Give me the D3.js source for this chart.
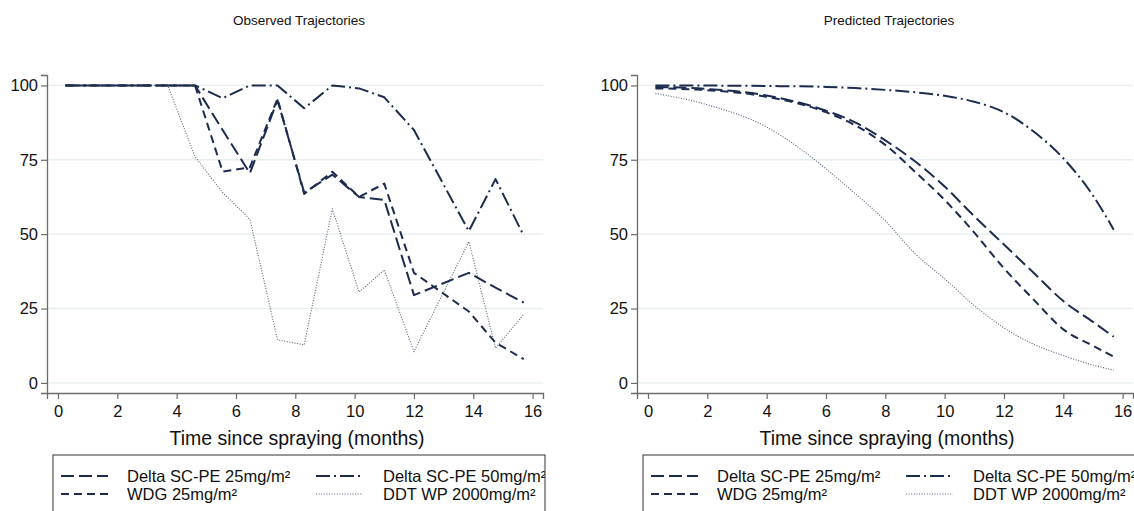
<!DOCTYPE html>
<html>
<head>
<meta charset="utf-8">
<script src="https://cdn.jsdelivr.net/npm/d3@7"></script>
<style>
  html, body { margin: 0; padding: 0; background: #fff; }
  svg { display: block; font-family: "Liberation Sans", Arial, sans-serif; }
</style>
</head>
<body>
<div id="chart"></div>
<script>
// observed survival (%) at each visit
const obsTimes = [0.25, 3.7, 4.62, 5.55, 6.47, 7.4, 8.3, 9.25, 10.15, 11.0, 12.0, 13.85, 14.75, 15.7];
const obsDelta25 = [100, 100, 100, 85, 70.5, 95, 64, 70, 62.5, 61.5, 29.5, 37, 32, 27];
const obsWdg25 = [100, 100, 100, 71, 72.5, 95.5, 63.5, 71, 62.5, 67, 37, 24, 13.5, 8];
const obsDelta50 = [100, 100, 100, 95.7, 100, 100, 92.3, 100, 99, 96, 85, 51, 68.5, 49.5];
const obsDdt = [100, 100, 76, 64, 55, 14.5, 12.8, 58.5, 30.5, 38, 10.5, 47.5, 11.7, 23];

// predicted trajectories
const predTimes = [0.25, 2, 4, 6, 7, 8, 9, 10, 11, 12, 13, 14, 15, 15.7];
const predDelta25 = [99.5, 98.8, 96.6, 91.5, 87.5, 81.5, 74.5, 66, 56, 46.5, 37, 27.5, 20.5, 15.5];
const predWdg25 = [99, 98.4, 96.2, 91, 86.5, 80, 71, 61.5, 50.5, 38.5, 28, 18, 12.5, 8.8];
const predDelta50 = [100, 99.95, 99.8, 99.5, 99.1, 98.5, 97.7, 96.5, 94.5, 91, 84.5, 75.5, 63, 51.5];
const predDdt = [97.3, 93.5, 86, 72, 63.5, 54.5, 43.5, 35, 26, 18.5, 13, 9.2, 6, 4.3];

const seriesNames = ['Delta SC-PE 25mg/m²', 'WDG 25mg/m²', 'Delta SC-PE 50mg/m²', 'DDT WP 2000mg/m²'];
const panelTitles = ['Observed Trajectories', 'Predicted Trajectories'];
const xTicks = [0, 2, 4, 6, 8, 10, 12, 14, 16];
const yTicks = [0, 25, 50, 75, 100];
const xTitle = 'Time since spraying (months)';

const navy = '#1c2b4e';
const styles = [
  { dash: '13,5', width: 2, opacity: 1 },
  { dash: '8,5', width: 2, opacity: 1 },
  { dash: '14,4,2,4', width: 2, opacity: 1 },
  { dash: '1,1.6', width: 1.1, opacity: 0.75 },
];

const W = 1134, H = 511;
const svg = d3.select('#chart').append('svg').attr('width', W).attr('height', H);
svg.append('rect').attr('width', W).attr('height', H).attr('fill', '#fff');

function drawPanel(offset, title, times, series, clipId) {
  const left = 47 + offset, right = 543 + offset, top = 75, bottom = 393;
  const x = d3.scaleLinear().domain([-0.37, 16.35]).range([left, right]);
  const y = d3.scaleLinear().domain([-3.4, 103.5]).range([bottom, top]);
  const g = svg.append('g');

  // title
  g.append('text')
    .attr('x', (left + right) / 2 + 4)
    .attr('y', 25)
    .attr('text-anchor', 'middle')
    .attr('font-size', 13.5)
    .attr('fill', '#111')
    .text(title);

  // grid
  g.selectAll('.grid')
    .data(yTicks)
    .enter()
    .append('line')
    .attr('x1', left)
    .attr('x2', right)
    .attr('y1', (d) => y(d))
    .attr('y2', (d) => y(d))
    .attr('stroke', '#e6eef0')
    .attr('stroke-width', 1.4);

  // axes
  const yAxis = g.append('g')
    .attr('transform', 'translate(' + left + ',0)')
    .call(d3.axisLeft(y).tickValues(yTicks).tickSize(6).tickPadding(3));
  const xAxis = g.append('g')
    .attr('transform', 'translate(0,' + bottom + ')')
    .call(d3.axisBottom(x).tickValues(xTicks).tickSize(6).tickPadding(6));
  [xAxis, yAxis].forEach((a) => {
    a.select('.domain').attr('stroke', '#6b6b6b').attr('stroke-width', 1.3);
    a.selectAll('.tick line').attr('stroke', '#6b6b6b').attr('stroke-width', 1.2);
    a.selectAll('.tick text')
      .attr('font-size', 16.5)
      .attr('fill', '#111')
      .style('font-family', '"Liberation Sans", Arial, sans-serif');
  });

  g.append('text')
    .attr('x', (left + right) / 2 + 2)
    .attr('y', 445)
    .attr('text-anchor', 'middle')
    .attr('font-size', 19.5)
    .attr('fill', '#111')
    .text(xTitle);

  // lines
  const line = d3.line()
    .x((d) => x(d[0]))
    .y((d) => y(d[1]));
  if (offset > 0) line.curve(d3.curveMonotoneX);

  series.forEach((vals, i) => {
    g.append('path')
      .datum(times.map((t, k) => [t, vals[k]]))
      .attr('fill', 'none')
      .attr('stroke', navy)
      .attr('stroke-width', styles[i].width)
      .attr('stroke-opacity', styles[i].opacity)
      .attr('stroke-dasharray', styles[i].dash)
      .attr('stroke-linejoin', 'round')
      .attr('d', line);
  });

  // legend (box runs past the right panel edge, as in the original)
  const lx = 53 + offset, ly = 455, lw = 492, lh = 80;
  svg.append('clipPath').attr('id', clipId)
    .append('rect').attr('x', lx).attr('y', ly).attr('width', lw).attr('height', lh);
  const lg = g.append('g').attr('clip-path', 'url(#' + clipId + ')');
  const order = [0, 2, 1, 3];
  const cols = [{ sx: lx + 8, tx: lx + 74 }, { sx: lx + 263, tx: lx + 330 }];
  order.forEach((si, k) => {
    const c = cols[k % 2];
    const ry = ly + 21 + Math.floor(k / 2) * 18;
    lg.append('line')
      .attr('x1', c.sx)
      .attr('x2', c.sx + 47)
      .attr('y1', ry)
      .attr('y2', ry)
      .attr('stroke', navy)
      .attr('stroke-width', styles[si].width)
      .attr('stroke-opacity', styles[si].opacity)
      .attr('stroke-dasharray', styles[si].dash);
    lg.append('text')
      .attr('x', c.tx)
      .attr('y', ry + 6)
      .attr('font-size', 16.5)
      .attr('fill', '#111')
      .text(seriesNames[si]);
  });
  g.append('rect')
    .attr('x', lx).attr('y', ly).attr('width', lw).attr('height', lh)
    .attr('fill', 'none')
    .attr('stroke', '#333')
    .attr('stroke-width', 1);
}

drawPanel(0, panelTitles[0], obsTimes, [obsDelta25, obsWdg25, obsDelta50, obsDdt], 'clipL');
drawPanel(590, panelTitles[1], predTimes, [predDelta25, predWdg25, predDelta50, predDdt], 'clipR');
</script>
</body>
</html>
